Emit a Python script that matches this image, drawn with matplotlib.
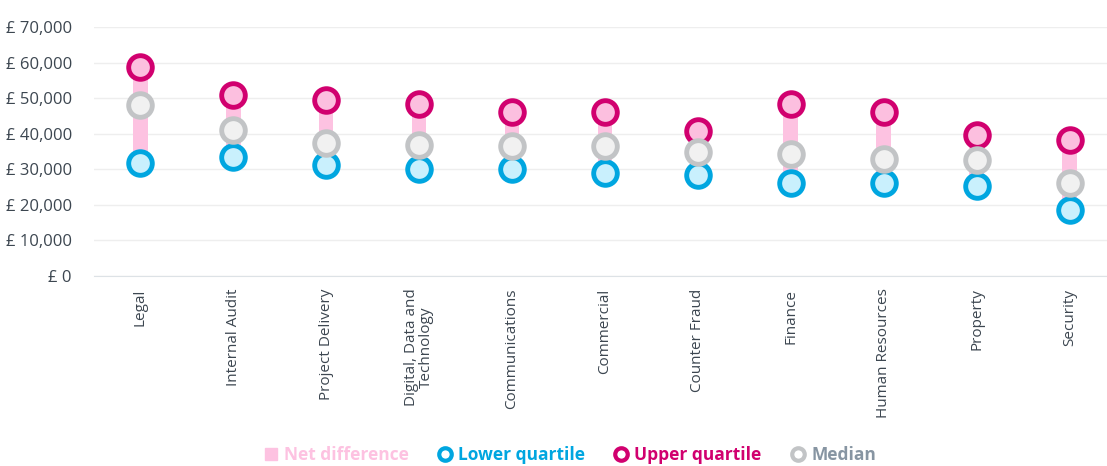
import matplotlib.pyplot as plt
from matplotlib.lines import Line2D
from matplotlib.ticker import FuncFormatter

plt.rcParams['font.family'] = ['Open Sans', 'DejaVu Sans']

professions = ['Legal', 'Internal Audit', 'Project Delivery', 'Digital, Data and\nTechnology',
               'Communications', 'Commercial', 'Counter Fraud', 'Finance',
               'Human Resources', 'Property', 'Security']
upper = [58800, 50900, 49500, 48400, 46100, 46100, 40800, 48400, 46100, 39600, 38200]
median = [48100, 41000, 37400, 36800, 36500, 36500, 34900, 34300, 32900, 32600, 26100]
lower = [31800, 33500, 31200, 30100, 30100, 29000, 28400, 26100, 26100, 25300, 18600]

pink_bar = '#fdc2e1'
up_edge, up_face = '#d1006f', '#fcbfdf'
lo_edge, lo_face = '#00a6e0', '#c9f0fd'
md_edge, md_face = '#c2c4c6', '#f1f1f1'

fig = plt.figure(figsize=(11.07, 4.66), dpi=100)
ax = fig.add_axes([0.085, 0.4077, 0.915, 0.5345])

x = list(range(len(professions)))
heights = [u - l for u, l in zip(upper, lower)]
ax.bar(x, heights, bottom=lower, width=0.16, color=pink_bar, zorder=2)

ms = 17
ax.plot(x, lower, 'o', ms=ms, mfc=lo_face, mec=lo_edge, mew=3.5, ls='none', zorder=3)
ax.plot(x, upper, 'o', ms=ms, mfc=up_face, mec=up_edge, mew=3.5, ls='none', zorder=3)
ax.plot(x, median, 'o', ms=ms, mfc=md_face, mec=md_edge, mew=3.5, ls='none', zorder=4)

ax.set_ylim(0, 70000)
ax.set_yticks(range(0, 70001, 10000))
ax.yaxis.set_major_formatter(FuncFormatter(lambda v, p: '£ {:,.0f}'.format(v)))
ax.set_xlim(-0.495, 10.4)
ax.set_xticks(x)
ax.set_xticklabels(professions, rotation=90, va='top', ha='center', fontsize=11, color='#3c4650',
                   linespacing=0.95)
ax.tick_params(axis='y', labelsize=12, colors='#3c4650', length=0, pad=16)
ax.tick_params(axis='x', length=0, pad=9)
ax.grid(axis='y', color='#eeeeee', lw=1, zorder=0)
ax.set_axisbelow(True)
for s in ['top', 'right', 'left']:
    ax.spines[s].set_visible(False)
ax.spines['bottom'].set_color('#dde2e6')

handles = [
    Line2D([], [], marker='s', ls='none', ms=9, mfc=pink_bar, mec=pink_bar),
    Line2D([], [], marker='o', ls='none', ms=9, mfc='white', mec=lo_edge, mew=3),
    Line2D([], [], marker='o', ls='none', ms=9, mfc='white', mec=up_edge, mew=3),
    Line2D([], [], marker='o', ls='none', ms=9, mfc='white', mec=md_edge, mew=3),
]
labels = ['Net difference', 'Lower quartile', 'Upper quartile', 'Median']
leg = fig.legend(handles, labels, loc='center', bbox_to_anchor=(0.514, 0.024), ncol=4,
                 frameon=False, handletextpad=0.25, columnspacing=1.6, handlelength=1.0,
                 prop={'size': 12.5, 'weight': 'bold'})
for t, c in zip(leg.get_texts(), [pink_bar, lo_edge, up_edge, '#8795a2']):
    t.set_color(c)

fig.savefig('out.png', dpi=100)
